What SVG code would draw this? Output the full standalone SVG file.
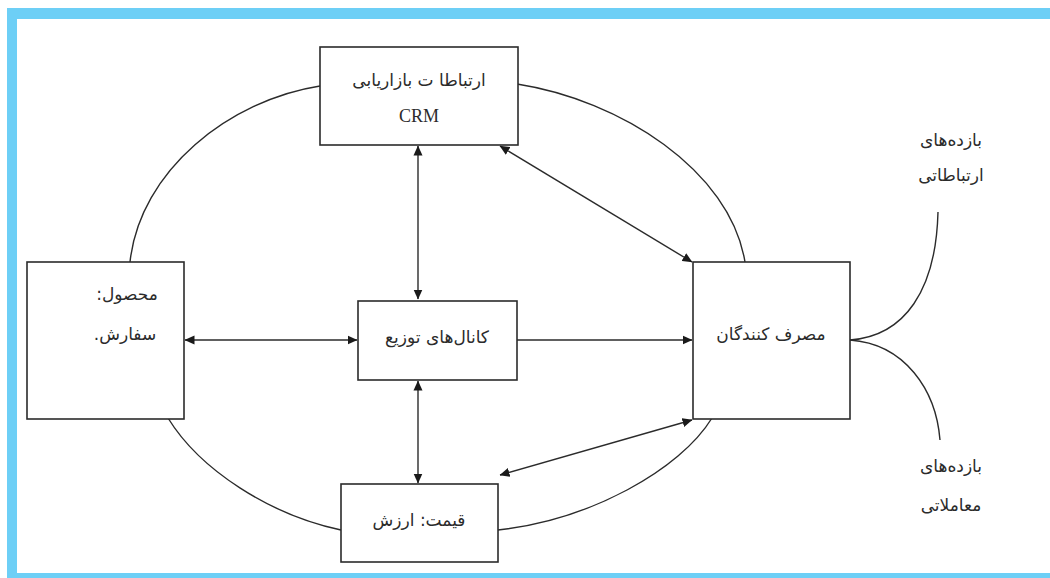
<svg xmlns="http://www.w3.org/2000/svg" width="1050" height="578" viewBox="0 0 1050 578">
<style>
.box{fill:#fff;stroke:#2b2b2b;stroke-width:1.6}
.ln{fill:none;stroke:#2b2b2b;stroke-width:1.4}
.fa{font-family:"DejaVu Sans","Noto Sans",sans-serif;font-size:17px;fill:#2b2b2b;text-anchor:middle;direction:rtl;unicode-bidi:embed}
.en{font-family:"Liberation Serif",serif;font-size:18px;fill:#2b2b2b;text-anchor:middle}
</style>
<defs>
<marker id="ah" viewBox="0 0 10 10" refX="9.5" refY="5" markerWidth="10" markerHeight="10" markerUnits="userSpaceOnUse" orient="auto-start-reverse">
<path d="M0,0.5 L10,5 L0,9.5 Z" fill="#1a1a1a"/>
</marker>
</defs>
<rect x="0" y="0" width="1050" height="578" fill="#fff"/>
<path d="M7,8 H1050 V578 H7 Z M17,19 V573 H1050 V19 Z" fill="#6dcff6" fill-rule="evenodd"/>
<g id="connectors">
<path class="ln" d="M320,86 C230,100 140,170 130,262"/>
<path class="ln" d="M517,84 C620,100 730,170 745,262"/>
<path class="ln" d="M168,418 C200,470 270,515 341,530"/>
<path class="ln" d="M498,530 C590,520 680,470 712,418"/>
<path class="ln" d="M850,340 C905,336 936,290 938,212"/>
<path class="ln" d="M850,340 C905,344 936,390 940,440"/>
<line class="ln" x1="418" y1="146" x2="418" y2="299" marker-start="url(#ah)" marker-end="url(#ah)"/>
<line class="ln" x1="418" y1="381" x2="418" y2="483" marker-start="url(#ah)" marker-end="url(#ah)"/>
<line class="ln" x1="185" y1="340" x2="357" y2="340" marker-start="url(#ah)" marker-end="url(#ah)"/>
<line class="ln" x1="517" y1="340" x2="692" y2="340" marker-end="url(#ah)"/>
<line class="ln" x1="500" y1="146" x2="692" y2="262" marker-start="url(#ah)" marker-end="url(#ah)"/>
<line class="ln" x1="500" y1="475" x2="692" y2="420" marker-start="url(#ah)" marker-end="url(#ah)"/>
</g>
<g id="node-crm">
<rect class="box" x="320" y="47" width="198" height="98"/>
<text class="fa" x="419" y="86" direction="rtl">ارتباطا ت بازاریابی</text>
<text class="en" x="419" y="122">CRM</text>
</g>
<g id="node-product">
<rect class="box" x="27" y="262" width="157" height="157"/>
<text class="fa" x="127" y="300" direction="rtl">محصول:</text>
<text class="fa" x="125" y="340" direction="rtl">سفارش.</text>
</g>
<g id="node-channels">
<rect class="box" x="358" y="301" width="159" height="79"/>
<text class="fa" x="437" y="343" direction="rtl">کانال‌های توزیع</text>
</g>
<g id="node-consumers">
<rect class="box" x="693" y="262" width="157" height="157"/>
<text class="fa" x="771" y="340" direction="rtl">مصرف کنندگان</text>
</g>
<g id="node-price">
<rect class="box" x="341" y="484" width="157" height="78"/>
<text class="fa" x="419" y="526" direction="rtl">قیمت: ارزش</text>
</g>
<g id="label-comm">
<text class="fa" x="951" y="146" direction="rtl">بازده‌های</text>
<text class="fa" x="951" y="181" direction="rtl">ارتباطاتی</text>
</g>
<g id="label-trans">
<text class="fa" x="951" y="472" direction="rtl">بازده‌های</text>
<text class="fa" x="951" y="511" direction="rtl">معاملاتی</text>
</g>
</svg>
